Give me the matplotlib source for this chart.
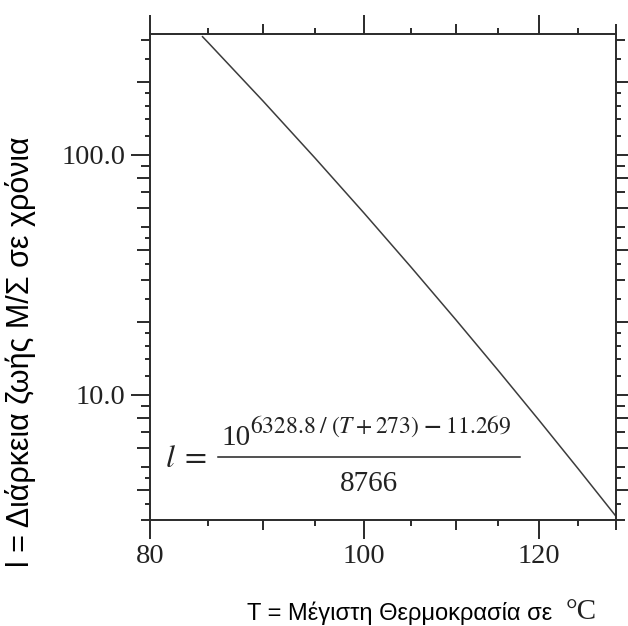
import matplotlib
matplotlib.use("Agg")
import matplotlib.pyplot as plt
from matplotlib.lines import Line2D
from matplotlib.ticker import NullFormatter

# καμπύλη διάρκειας ζωής (τιμές διαβασμένες από το γράφημα)
temperatura = [84.5, 85, 90, 95, 100, 105, 110, 115, 120, 125, 130]
diarkeia = [309.9, 292.8, 167.1, 96.8, 56.95, 33.97, 20.54, 12.58, 7.80, 4.895, 3.108]

x_major = [80, 100, 120]
x_labels = ["80", "100", "120"]
x_medium = [90, 110, 130]
x_small = [85, 95, 105, 115, 125]

y_major = [10, 100]
y_labels = ["10.0", "100.0"]
y_long = [4, 6, 8, 20, 40, 60, 80, 200]
y_medium = [3, 5, 7, 9, 30, 50, 70, 90, 300]
y_small = [3.5, 4.5, 12, 14, 16, 18, 25, 35, 45, 120, 140, 160, 180, 250]

W, H = 628, 626
plt.rcParams['mathtext.fontset'] = 'stix'
serif = "Liberation Serif"
sans = "Liberation Sans"
axcol = "#2a2a2a"
txtcol = "#222222"

fig = plt.figure(figsize=(W / 100, H / 100), dpi=100)
ax = fig.add_axes([150 / W, 1 - 520 / H, 466 / W, 486 / H])

ax.plot(temperatura, diarkeia, color="#3c3c3c", lw=1.1)

ax.set_xscale("log")
ax.set_yscale("log")
ax.set_xlim(80, 130)
ax.set_ylim(3, 318)

for s in ax.spines.values():
    s.set_linewidth(1.4)
    s.set_color(axcol)

ax.set_xticks(x_major, x_labels)
ax.set_xticks(x_medium + x_small, minor=True)
ax.set_yticks(y_major, y_labels)
ax.set_yticks(y_long + y_medium + y_small, minor=True)
ax.xaxis.set_minor_formatter(NullFormatter())
ax.yaxis.set_minor_formatter(NullFormatter())

ax.tick_params(which="both", direction="out", top=True, right=True,
               width=1.4, color=axcol)
ax.tick_params(which="major", length=13.5, labelsize=20.5, pad=4)
for lab in ax.get_xticklabels() + ax.get_yticklabels():
    lab.set_fontfamily(serif)
    lab.set_color(txtcol)


def tick_sizes(axis, sizes):
    ticks = axis.get_minor_ticks(len(sizes))
    for t, s in zip(ticks, sizes):
        t.tick1line.set_markersize(s)
        t.tick2line.set_markersize(s)


tick_sizes(ax.xaxis, [7.2] * len(x_medium) + [4.3] * len(x_small))
tick_sizes(ax.yaxis, [9.1] * len(y_long) + [6.3] * len(y_medium) + [3.4] * len(y_small))


def px(x, y):
    return x / W, 1 - y / H


# τύπος
fig.text(*px(165, 466.7), r"$l\;=$", fontsize=23, va="baseline", ha="left", color=txtcol)
fig.text(*px(221, 445), "10", fontsize=21, family=serif, va="baseline", ha="left", color=txtcol)
fig.text(*px(250, 433), r"$6328.8\;/\;(T+273)\;\mathbf{-}\;11.269$", fontsize=17,
         va="baseline", ha="left", color=txtcol)
fig.add_artist(Line2D([218 / W, 520 / W], [1 - 457.3 / H] * 2, color=txtcol, lw=1.1))
fig.text(*px(369, 490.7), "8766", fontsize=21, family=serif, va="baseline", ha="center", color=txtcol)

# ετικέτες αξόνων
fig.text(*px(247, 620), "T = Μέγιστη Θερμοκρασία σε", fontsize=17, family=sans,
         va="baseline", ha="left")
fig.text(*px(566, 619), "°C", fontsize=21, family=serif, va="baseline", ha="left", color=txtcol)
fig.text(*px(21, 352), "l = Διάρκεια ζωής Μ/Σ σε χρόνια", fontsize=22, family=sans,
         rotation=90, va="center", ha="center")

fig.savefig("out.png", dpi=100)
